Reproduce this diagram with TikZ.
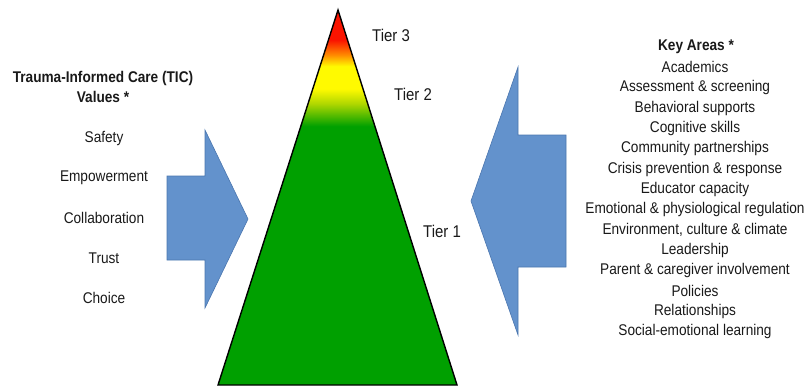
\documentclass[tikz,border=0pt]{standalone}
\usepackage{graphicx}
\usepackage{fontspec}
\setmainfont{Liberation Sans}
\definecolor{tgreen}{RGB}{0,160,0}
\definecolor{tyg}{RGB}{175,215,0}
\definecolor{tyellow}{RGB}{255,250,0}
\definecolor{torange}{RGB}{255,140,0}
\definecolor{tred}{RGB}{250,20,0}
\definecolor{arrowfill}{RGB}{99,146,204}
\definecolor{arrowline}{RGB}{75,118,175}
\definecolor{txt}{RGB}{25,25,25}
\newcommand\narrowtxt[1]{\scalebox{0.88}[1]{#1}}
\pgfdeclareverticalshading{tiershade}{100bp}{color(0bp)=(tgreen); color(59.5bp)=(tgreen); color(62.5bp)=(tyg); color(64.5bp)=(tyellow); color(67.5bp)=(tyellow); color(69bp)=(torange); color(71bp)=(tred); color(100bp)=(tred)}
\begin{document}
\begin{tikzpicture}[x=1pt,y=-1pt,
  lbl/.style={inner sep=0pt,text=txt,font=\fontsize{15.5}{18}\selectfont},
  ttl/.style={lbl,font=\fontsize{15.5}{18}\selectfont\bfseries},
  tier/.style={inner sep=0pt,text=txt,font=\fontsize{17}{20}\selectfont},
  bigarrow/.style={fill=arrowfill,draw=arrowline,line width=0.6pt,line join=miter}]
\useasboundingbox (0,0) rectangle (808,386);
% triangle
\path[shading=tiershade,draw=black,line width=1.4pt,line join=miter] (338,10) -- (457,385) -- (218,385) -- cycle;
% left arrow
\path[bigarrow] (167,176) -- (205,176) -- (205,130) -- (248,219) -- (205,308) -- (205,260) -- (167,260) -- cycle;
% right arrow
\path[bigarrow] (566,135) -- (518,135) -- (518,67) -- (471,201) -- (518,335) -- (518,267) -- (566,267) -- cycle;
% tier labels
\node[tier] (t3) at (391,35) {\narrowtxt{Tier 3}};
\node[tier] (t2) at (413,94) {\narrowtxt{Tier 2}};
\node[tier] (t1) at (442,231) {\narrowtxt{Tier 1}};
% left text
\node[ttl] (tic1) at (103,78) {\narrowtxt{Trauma-Informed Care (TIC)}};
\node[ttl] (tic2) at (103,97) {\narrowtxt{Values *}};
\foreach \t [count=\i] in {Safety,Empowerment,Collaboration,Trust,Choice}
  \node[lbl] (v\i) at (104,138+40*\i-40) {\narrowtxt{\t}};
% right text
\node[ttl] (ka0) at (696,47) {\narrowtxt{Key Areas *}};
\foreach \t [count=\i] in {Academics,Assessment \& screening,Behavioral supports,Cognitive skills,Community partnerships,Crisis prevention \& response,Educator capacity,Emotional \& physiological regulation,{Environment, culture \& climate},Leadership,Parent \& caregiver involvement,Policies,Relationships,Social-emotional learning}
  \node[lbl] (ka\i) at (695,47+20.35*\i) {\narrowtxt{\t}};
\end{tikzpicture}
\end{document}
